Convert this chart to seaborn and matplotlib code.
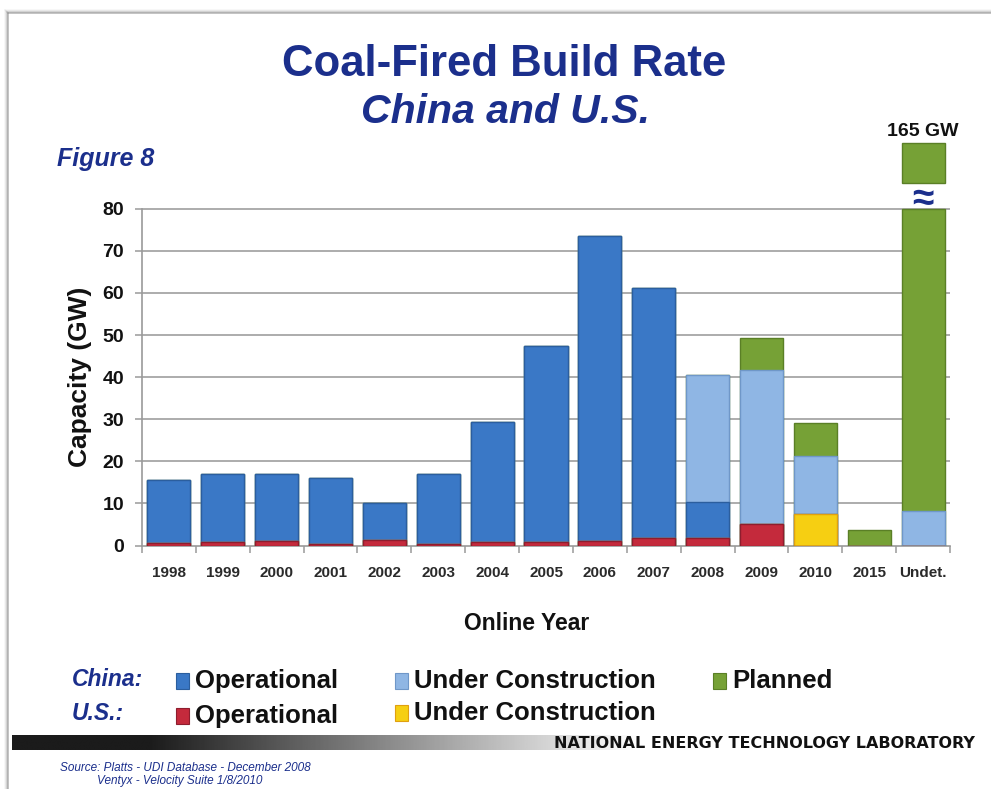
import numpy as np
import pandas as pd
import matplotlib
matplotlib.use("Agg")
import matplotlib.pyplot as plt
from matplotlib.patches import Rectangle
from matplotlib.lines import Line2D
import seaborn as sns

# ---- data (GW) ----
years = ["1998", "1999", "2000", "2001", "2002", "2003", "2004", "2005",
         "2006", "2007", "2008", "2009", "2010", "2015", "Undet."]
us_operational = [0.5, 0.8, 1.0, 0.3, 1.2, 0.3, 0.8, 0.8, 1.0, 1.7, 1.7, 5.2, 0, 0, 0]
us_under_construction = [0, 0, 0, 0, 0, 0, 0, 0, 0, 0, 0, 0, 7.5, 0, 0]
china_operational = [15.1, 16.3, 16.1, 15.7, 8.9, 16.8, 28.5, 46.6, 72.5, 59.5, 8.7, 0, 0, 0, 0]
china_under_construction = [0, 0, 0, 0, 0, 0, 0, 0, 0, 0, 30.0, 36.6, 13.8, 0, 8.2]
china_planned = [0, 0, 0, 0, 0, 0, 0, 0, 0, 0, 0, 7.4, 7.7, 3.8, 156.8]

# ---- styling ----
NAVY = "#1b2f8c"
C_CN_OP = "#3a78c6"
C_CN_UC = "#8fb6e4"
C_CN_PL = "#76a136"
C_US_OP = "#c42a3c"
C_US_UC = "#f6cf12"
EDGES = {C_CN_OP: "#2b5e9e", C_CN_UC: "#6f97c8", C_CN_PL: "#5a7f26",
         C_US_OP: "#8e1d2e", C_US_UC: "#e0a010"}
AXIS_TOP = 80          # value axis is broken above this
STUB_LOW, STUB_HIGH = 86.2, 95.6   # where the part above the break is shown

sns.set_theme(style="white")
plt.rcParams["font.family"] = ["Liberation Sans", "DejaVu Sans"]

W, H = 991, 789
fig = plt.figure(figsize=(W / 100, H / 100), dpi=100)
fig.patch.set_facecolor("white")


def fx(px):
    return px / W


def fy(py):
    return 1 - py / H


# slide frame with a soft shadow along the top and left edges
for i, a in enumerate([0.55, 0.3, 0.15, 0.07]):
    fig.add_artist(Line2D([fx(8 - i), 1], [fy(13 - i), fy(13 - i)],
                          color="#808080", alpha=a, lw=1.2, transform=fig.transFigure))
    fig.add_artist(Line2D([fx(8 - i), fx(8 - i)], [0, fy(13 - i)],
                          color="#808080", alpha=a, lw=1.2, transform=fig.transFigure))

ax = fig.add_axes([fx(142), fy(545.5), fx(950) - fx(142), fy(124.5) - fy(545.5)])

# cumulative stack heights, bottom layer first
layers = [(us_operational, C_US_OP), (us_under_construction, C_US_UC),
          (china_operational, C_CN_OP), (china_under_construction, C_CN_UC),
          (china_planned, C_CN_PL)]
cum = np.zeros(len(years))
stacks = []
for vals, col in layers:
    cum = cum + np.array(vals, dtype=float)
    stacks.append((cum.copy(), col))

# draw tallest stack first so each lower layer covers it
for heights, col in reversed(stacks):
    df = pd.DataFrame({"year": years, "gw": np.minimum(heights, AXIS_TOP)})
    sns.barplot(data=df, x="year", y="gw", order=years, color=col,
                saturation=1, width=0.8, edgecolor=EDGES[col], linewidth=1.0,
                errorbar=None, ax=ax, zorder=3)

# part of the undetermined bar that lies above the axis break
total_undet = stacks[-1][0][-1]
ax.bar(len(years) - 1, STUB_HIGH - STUB_LOW, bottom=STUB_LOW, width=0.8,
       color=C_CN_PL, edgecolor=EDGES[C_CN_PL], linewidth=1.0, zorder=3)
ax.text(len(years) - 1, STUB_HIGH + 0.8, f"{total_undet:.0f} GW", ha="center",
        va="bottom", fontsize=14, fontweight="bold", color="#111111")
ax.text(len(years) - 1, 82.0, "≈", ha="center", va="center", fontsize=28,
        color=NAVY, fontweight="bold", zorder=5)

ax.set_xlim(-0.5, len(years) - 0.5)
ax.set_ylim(0, 100)
ax.set_yticks(range(0, 81, 10))
for yv in range(10, 81, 10):
    ax.axhline(yv, color="#a6a6a6", lw=1.3, zorder=1)
for s in ["top", "right"]:
    ax.spines[s].set_visible(False)
ax.spines["left"].set_bounds(0, AXIS_TOP)
ax.spines["left"].set_color("#9a9a9a")
ax.spines["bottom"].set_color("#9a9a9a")
ax.spines["left"].set_linewidth(1.2)
ax.spines["bottom"].set_linewidth(1.2)
ax.set_facecolor("none")
ax.tick_params(axis="y", left=True, length=5, width=1.1, color="#9a9a9a",
               labelsize=14, pad=8)
ax.tick_params(axis="x", bottom=False, labelsize=11, pad=9)
ax.set_xticks(np.arange(-0.5, len(years), 1.0), minor=True)
ax.tick_params(axis="x", which="minor", bottom=True, length=5, width=1.1, color="#9a9a9a")
for lab in ax.get_yticklabels():
    lab.set_fontweight("bold")
    lab.set_color("#111111")
for lab in ax.get_xticklabels():
    lab.set_fontweight("bold")
    lab.set_color("#2a2a2a")
ax.set_xlabel("")
ax.set_ylabel("")

# titles and axis captions
fig.text(fx(504), fy(64), "Coal-Fired Build Rate", ha="center", va="center",
         fontsize=31.5, fontweight="bold", color=NAVY)
fig.text(fx(505), fy(112), "China and U.S.", ha="center", va="center",
         fontsize=29.5, fontweight="bold", style="italic", color=NAVY)
fig.text(fx(57), fy(159), "Figure 8", ha="left", va="center",
         fontsize=18, fontweight="bold", style="italic", color=NAVY)
fig.text(fx(80), fy(377), "Capacity (GW)", ha="center", va="center", rotation=90,
         fontsize=19, fontweight="bold", color="#111111")
fig.text(fx(527), fy(624), "Online Year", ha="center", va="center",
         fontsize=16.5, fontweight="bold", color="#111111")

# legend rows
def legend_item(xpx, ypx, col, label):
    fig.add_artist(Rectangle((fx(xpx), fy(ypx + 8)), fx(13), 16 / H, transform=fig.transFigure,
                             facecolor=col, edgecolor=EDGES[col], lw=0.8))
    fig.text(fx(xpx + 19), fy(ypx), label, ha="left", va="center",
             fontsize=18.5, fontweight="bold", color="#111111")

fig.text(fx(72), fy(680), "China:", ha="left", va="center", fontsize=16.5,
         fontweight="bold", style="italic", color=NAVY)
fig.text(fx(72), fy(714), "U.S.:", ha="left", va="center", fontsize=16.5,
         fontweight="bold", style="italic", color=NAVY)
legend_item(176, 681, C_CN_OP, "Operational")
legend_item(395, 681, C_CN_UC, "Under Construction")
legend_item(713, 681, C_CN_PL, "Planned")
legend_item(176, 716, C_US_OP, "Operational")
legend_item(395, 713, C_US_UC, "Under Construction")

# footer band fading from dark to white
band = fig.add_axes([fx(12), fy(750), 1 - fx(12), 15 / H])
grad = np.clip((np.linspace(0, 1, 600) - 0.14) / 0.5, 0, 1)
band.imshow(grad[None, :], cmap="gray", aspect="auto", vmin=-0.12, vmax=1.0,
            extent=[0, 1, 0, 1])
band.axis("off")
fig.text(fx(975), fy(744), "NATIONAL ENERGY TECHNOLOGY LABORATORY", ha="right",
         va="center", fontsize=11.5, fontweight="bold", color="#111111",
         family=["DejaVu Sans"])
fig.text(fx(60), fy(768), "Source: Platts - UDI Database - December 2008",
         ha="left", va="center", fontsize=8.5, style="italic", color=NAVY)
fig.text(fx(97), fy(781), "Ventyx - Velocity Suite 1/8/2010",
         ha="left", va="center", fontsize=8.5, style="italic", color=NAVY)

fig.savefig("out.png", dpi=100)
